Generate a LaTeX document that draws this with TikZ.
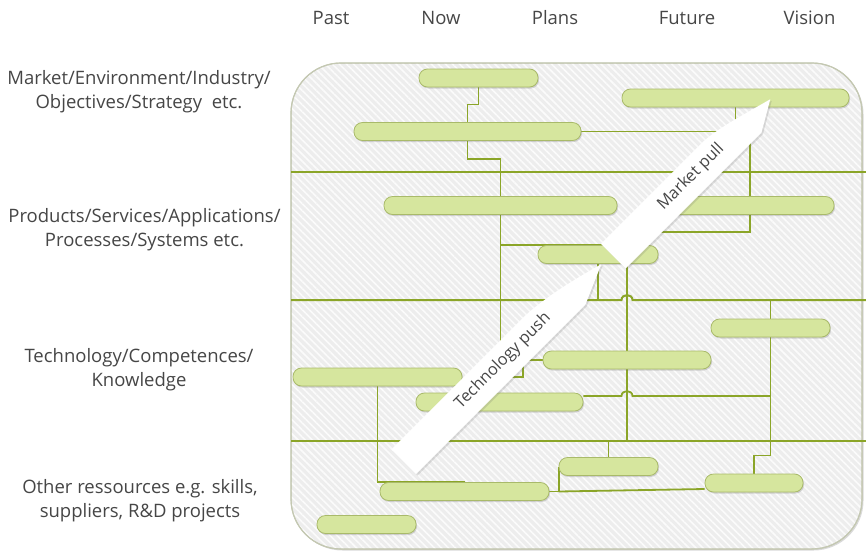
\documentclass[tikz,border=0pt]{standalone}
\usepackage{fontspec}
\setmainfont{Open Sans}
\usetikzlibrary{patterns.meta,shadows,calc}
\definecolor{lanegreen}{RGB}{139,165,40}
\definecolor{barfill}{RGB}{214,230,158}
\definecolor{barline}{RGB}{169,186,106}
\definecolor{panelfill}{RGB}{237,237,237}
\definecolor{panelline}{RGB}{196,200,178}
\definecolor{txt}{RGB}{70,70,70}
\pgfdeclarelayer{bg}
\pgfdeclarelayer{connlayer}
\pgfsetlayers{bg,connlayer,main}
\begin{document}
\begin{tikzpicture}[x=1pt,y=-1pt,
  bar/.style={draw=barline, line width=0.8pt, fill=barfill, rounded corners=8.5pt,
    minimum height=18pt, inner sep=0pt,
    drop shadow={shadow xshift=1pt, shadow yshift=-1.5pt, opacity=0.25, fill=black!60}},
  conn/.style={draw=lanegreen, line width=1.8pt},
  lanesty/.style={draw=lanegreen, line width=2pt},
  lbl/.style={text=txt, align=center, font=\fontsize{18.5}{24}\selectfont, inner sep=0pt},
  collbl/.style={text=txt, font=\fontsize{18.5}{20}\selectfont, inner sep=0pt},
  arrowsty/.style={fill=white, drop shadow={shadow xshift=1.5pt, shadow yshift=-1.5pt, opacity=0.2, fill=black!60}},
  arrtxt/.style={text=txt, font=\fontsize{16.3}{18}\selectfont, rotate=45, inner sep=0pt}
]
\useasboundingbox (0,0) rectangle (866,552);

% panel and lanes
\begin{pgfonlayer}{bg}
\path[fill=panelfill, draw=panelline, line width=1pt, rounded corners=50pt,
  drop shadow={shadow xshift=1.5pt, shadow yshift=-1.5pt, opacity=0.15, fill=black}]
  (291,63) rectangle (862,549);
\path[rounded corners=50pt, pattern={Lines[angle=-45, distance=5pt, line width=1.6pt]}, pattern color=white!80!panelfill]
  (291.5,63.5) rectangle (861.5,548.5);
\draw[panelline, line width=1.2pt, rounded corners=50pt] (291,63) rectangle (862,549);
\coordinate (L1w) at (291,172); \coordinate (L1e) at (866,172);
\coordinate (L2w) at (291,300); \coordinate (L2e) at (866,300);
\coordinate (L3w) at (291,441); \coordinate (L3e) at (866,441);
\draw[lanesty] (L1w) -- (L1e);
\draw[lanesty] (L2w) -- (621.5,300) .. controls (621.5,293.5) and (632.5,293.5) .. (632.5,300) -- (L2e);
\draw[lanesty] (L3w) -- (L3e);
\end{pgfonlayer}

% bars
\node[bar, minimum width=119pt] (b1) at (478.5,78) {};
\node[bar, minimum width=227pt] (b2) at (467.5,131.5) {};
\node[bar, minimum width=233pt] (b3) at (500.5,205.5) {};
\node[bar, minimum width=120pt] (b4) at (598,254.5) {};
\node[bar, minimum width=227pt] (b5) at (735.5,98) {};
\node[bar, minimum width=168pt] (b6) at (750,205.5) {};
\node[bar, minimum width=169pt] (b7) at (377.5,377) {};
\node[bar, minimum width=167pt] (b8) at (499.5,402) {};
\node[bar, minimum width=168pt] (b9) at (627,360) {};
\node[bar, minimum width=169pt] (b10) at (464.5,491.5) {};
\node[bar, minimum width=99pt] (b11) at (366.5,524.5) {};
\node[bar, minimum width=99pt] (b12) at (608.5,466.5) {};
\node[bar, minimum width=119pt] (b13) at (770.5,328) {};
\node[bar, minimum width=98pt] (b14) at (754,483) {};

% connectors
\coordinate (t1) at (523,377);
\coordinate (t2) at (612,245);
\coordinate (t3) at (640,232);
\coordinate (b8e) at ([yshift=6pt]b8.east);
\coordinate (b14w) at ([yshift=-6pt]b14.west);
\begin{pgfonlayer}{connlayer}
\draw[conn] (b1.south) -- ++(0,17) -| (b2.north);
\draw[conn] (b2.south) -- ++(0,18) -| (b3.north);
\draw[conn] (b3.south) |- (t1) |- (b9.west);
\draw[conn] (t2) -| (b3.south);
\draw[conn] (b2.east) -| (b6.north);
\draw[conn] (b6.south) |- (t3);
\draw[conn] (b5.south) -- (b5.south |- b2.east);
\draw[conn] (b4.south) -- (b4.south |- L2w);
\draw[conn] (b9.north |- b4.south) -- (b9.south |- L3w) -| (b12.north);
\draw[conn] (b13.north |- L2w) -- (b13.south) -- ++(0,118) -| (b14.north);
\draw[conn] (b8e) -- (621.5,396) .. controls (621.5,389.5) and (632.5,389.5) .. (632.5,396) -- (b13.south |- b8e);
\draw[conn] (b7.south) |- (b10.north);
\draw[conn] (b10.east) -| (b12.west);
\draw[conn] (b12.west |- b10.east) -- (b14w);
\end{pgfonlayer}

% big arrows
\path[arrowsty] (391.4,449.4) -- (416.1,474.1) -- (585.3,304.9) -- (601.25,264.25)
  .. controls (569.4,282) and (539.4,301.4) .. (521.9,318.9) -- cycle;
\path[arrowsty] (600.9,243.9) -- (625.6,268.6) -- (761.4,132.8) -- (770.25,99.25)
  .. controls (743.4,114.8) and (715.4,129.4) .. (701.4,143.4) -- cycle;
\node[arrtxt] (tpush) at (503,361) {Technology push};
\node[arrtxt] (mpull) at (691,177) {Market pull};

% column labels
\node[collbl] (cpast) at (331,18) {Past};
\node[collbl] (cnow) at (441,18) {Now};
\node[collbl] (cplans) at (555,18) {Plans};
\node[collbl] (cfuture) at (687,18) {Future};
\node[collbl] (cvision) at (809.5,18) {Vision};

% row labels
\node[lbl] (r1) at (139,92) {Market/Environment/Industry/\\Objectives/Strategy~ etc.};
\node[lbl] (r2) at (144.5,229.5) {Products/Services/Applications/\\Processes/Systems etc.};
\node[lbl] (r3) at (139,369.5) {Technology/Competences/\\Knowledge};
\node[lbl] (r4) at (140,501) {Other ressources e.g. skills,\\suppliers, R\&D projects};
\end{tikzpicture}
\end{document}
